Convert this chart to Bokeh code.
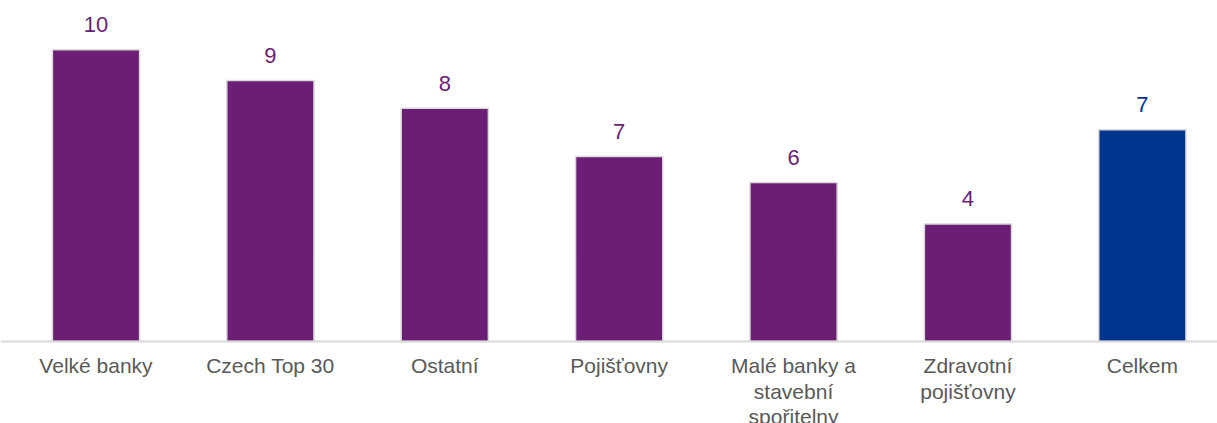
from bokeh.plotting import figure
from bokeh.models import ColumnDataSource, FixedTicker, Range1d
from bokeh.core.properties import value
from bokeh.embed import file_html
from bokeh.resources import INLINE

categories = ["Velké banky", "Czech Top 30", "Ostatní", "Pojišťovny",
              "Malé banky a\nstavební\nspořitelny", "Zdravotní\npojišťovny", "Celkem"]
values = [10.29, 9.21, 8.23, 6.53, 5.61, 4.15, 7.47]
bar_colors = ["#6B1F74"] * 6 + ["#00348F"]

xs = list(range(len(categories)))
labels = [f"{v:.0f}" for v in values]

src = ColumnDataSource(dict(x=xs, top=values, color=bar_colors, label=labels))

p = figure(width=1217, height=423, output_backend="svg", toolbar_location=None,
           x_range=Range1d(-0.5476, 6.431), y_range=Range1d(-2.892, 12.03),
           min_border_left=0, min_border_right=0, min_border_top=0, min_border_bottom=0)
p.outline_line_color = None
p.grid.grid_line_color = None
p.yaxis.visible = False

p.vbar(x="x", top="top", bottom=0, width=0.5, fill_color="color", line_color="#D9D9D9",
       line_width=1.5, source=src)
p.text(x="x", y="top", text="label", text_color="color", text_align="center",
       text_baseline="alphabetic", y_offset=-25, text_font_size="22px",
       text_font=value("Liberation Sans"), source=src)

ax = p.xaxis[0]
ax.fixed_location = 0
ax.ticker = FixedTicker(ticks=xs)
ax.major_label_overrides = {i: c for i, c in zip(xs, categories)}
ax.axis_line_color = "#D9D9D9"
ax.axis_line_width = 2
ax.major_tick_line_color = None
ax.minor_tick_line_color = None
ax.major_label_text_font = "Liberation Sans"
ax.major_label_text_font_size = "21px"
ax.major_label_text_color = "#595959"
ax.major_label_standoff = 6
ax.major_label_text_line_height = 1.13

open("out.html", "w").write(file_html(p, INLINE))
